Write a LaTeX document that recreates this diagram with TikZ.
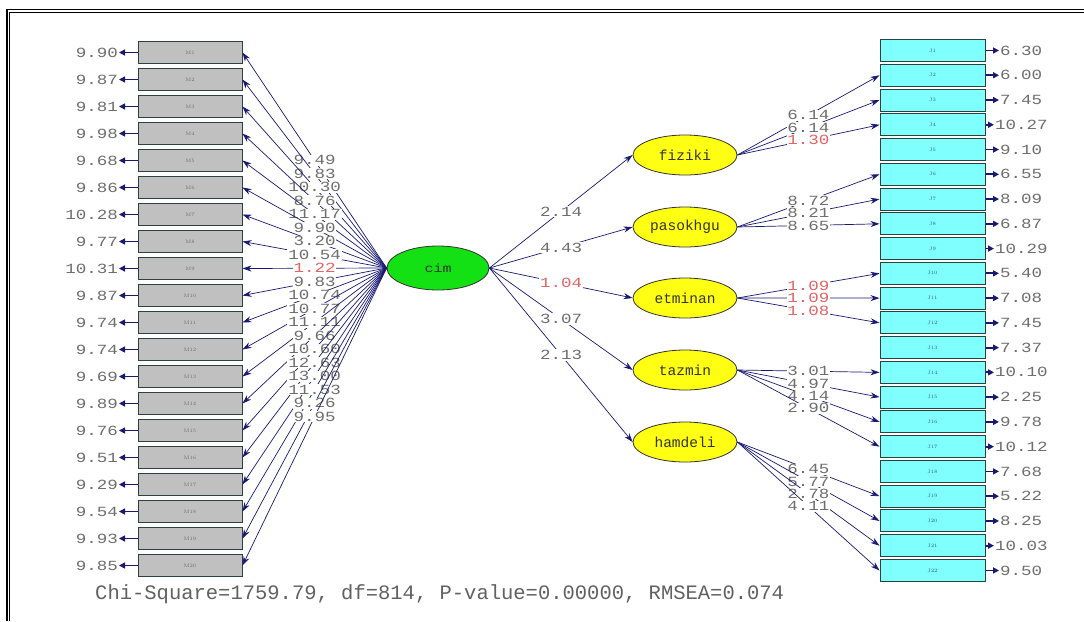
\documentclass[tikz,border=0pt]{standalone}
\usepackage{fontspec}
\usetikzlibrary{shapes.geometric,arrows.meta}
\newfontfamily\lmono[FakeStretch=1.25]{Liberation Mono}
\newfontfamily\bmono{Liberation Mono}
\definecolor{navy}{RGB}{25,25,115}
\definecolor{lblgray}{RGB}{110,110,110}
\definecolor{lblred}{RGB}{225,100,100}
\definecolor{boxgray}{RGB}{192,192,192}
\definecolor{boxcyan}{RGB}{128,255,255}
\definecolor{edgedark}{RGB}{45,65,65}
\definecolor{latyellow}{RGB}{255,255,20}
\definecolor{latgreen}{RGB}{20,225,20}
\definecolor{jtext}{RGB}{40,90,160}
\tikzset{
  mbox/.style={rectangle, minimum width=104pt, minimum height=22pt, inner sep=0pt,
    fill=boxgray, draw=edgedark, line width=1pt, text=lblgray, font=\fontsize{5}{5}\selectfont},
  jbox/.style={rectangle, minimum width=105pt, minimum height=22pt, inner sep=0pt,
    fill=boxcyan, draw=edgedark, line width=1pt, text=jtext, font=\fontsize{5}{5}\selectfont},
  lat/.style={ellipse, minimum width=104pt, minimum height=40pt, inner sep=0pt,
    fill=latyellow, draw=black!80, line width=0.8pt, font=\bmono\fontsize{14.5}{14.5}\selectfont, text=black!80},
  errlbl/.style={inner sep=1pt, text=lblgray, font=\lmono\fontsize{14}{14}\selectfont},
  lbl/.style={inner sep=0.8pt, fill=white, font=\lmono\fontsize{14}{14}\selectfont},
  ldg/.style={draw=navy, line width=0.7pt, -{Stealth[length=9pt,width=6pt]}},
  erra/.style={draw=navy, line width=1.8pt, -{Triangle[length=6pt,width=6pt]}},
}
\begin{document}
\begin{tikzpicture}[x=1pt,y=-1pt]
\useasboundingbox (0,0) rectangle (1084,621);
\fill[white] (0,0) rectangle (1084,621);
% frame
\draw[line width=1.5pt] (7,621) -- (7,9.7) -- (1084,9.7);
\draw[line width=0.8pt] (9.7,621) -- (9.7,12.3) -- (1084,12.3);

% latent variables
\node[lat, fill=latgreen, minimum width=102pt, minimum height=44pt, font=\lmono\fontsize{12}{12}\selectfont] (cim) at (438,268) {cim};
\node[lat] (fiziki) at (685,155) {fiziki};
\node[lat] (pasokhgu) at (685,227) {pasokhgu};
\node[lat] (etminan) at (685,298) {etminan};
\node[lat] (tazmin) at (685,370) {tazmin};
\node[lat] (hamdeli) at (685,442) {hamdeli};

% left indicators
\foreach \i in {1,...,20} {
  \node[mbox] (M\i) at (190,{52.5+27*(\i-1)}) {M\i};
}
% right indicators
\foreach \j in {1,...,22} {
  \node[jbox] (J\j) at (932.5,{50.5+24.76*(\j-1)}) {J\j};
}

% left error terms
\foreach \i/\v in {1/9.90,2/9.87,3/9.81,4/9.98,5/9.68,6/9.86,7/10.28,8/9.77,9/10.31,10/9.87,
                   11/9.74,12/9.74,13/9.69,14/9.89,15/9.76,16/9.51,17/9.29,18/9.54,19/9.93,20/9.85} {
  \node[errlbl, anchor=east] (eM\i) at (119,{52.5+27*(\i-1)}) {\v};
  \draw[erra] (M\i.west) -- (eM\i.east);
}
% right error terms
\foreach \j/\v/\xx in {1/6.30/999,2/6.00/999,3/7.45/999,4/10.27/994,5/9.10/999,6/6.55/999,7/8.09/999,
                       8/6.87/999,9/10.29/994,10/5.40/999,11/7.08/999,12/7.45/999,13/7.37/999,14/10.10/994,
                       15/2.25/999,16/9.78/999,17/10.12/994,18/7.68/999,19/5.22/999,20/8.25/999,21/10.03/994,22/9.50/999} {
  \node[errlbl, anchor=west] (eJ\j) at (\xx,{50.5+24.76*(\j-1)}) {\v};
  \draw[erra] (J\j.east) -- (eJ\j.west);
}

% cim -> M loadings
\foreach \i/\v/\c in {1/9.49/lblgray,2/9.83/lblgray,3/10.30/lblgray,4/8.76/lblgray,5/11.17/lblgray,
                      6/9.90/lblgray,7/3.20/lblgray,8/10.54/lblgray,9/1.22/lblred,10/9.83/lblgray,
                      11/10.74/lblgray,12/10.77/lblgray,13/11.11/lblgray,14/9.66/lblgray,15/10.60/lblgray,
                      16/12.63/lblgray,17/13.00/lblgray,18/11.53/lblgray,19/9.26/lblgray,20/9.95/lblgray} {
  \draw[ldg] (cim.west) -- node[lbl, text=\c] {\v} (M\i.east);
}

% cim -> latent paths
\foreach \n/\v/\c in {fiziki/2.14/lblgray, pasokhgu/4.43/lblgray, etminan/1.04/lblred,
                      tazmin/3.07/lblgray, hamdeli/2.13/lblgray} {
  \draw[ldg] (cim.east) -- node[lbl, text=\c] {\v} (\n.west);
}

% latent -> J loadings
\foreach \n/\j/\v/\c in {fiziki/2/6.14/lblgray, fiziki/3/6.14/lblgray, fiziki/4/1.30/lblred,
                         pasokhgu/6/8.72/lblgray, pasokhgu/7/8.21/lblgray, pasokhgu/8/8.65/lblgray,
                         etminan/10/1.09/lblred, etminan/11/1.09/lblred, etminan/12/1.08/lblred,
                         tazmin/14/3.01/lblgray, tazmin/15/4.97/lblgray, tazmin/16/4.14/lblgray, tazmin/17/2.90/lblgray,
                         hamdeli/19/6.45/lblgray, hamdeli/20/5.77/lblgray, hamdeli/21/2.78/lblgray, hamdeli/22/4.11/lblgray} {
  \draw[ldg] (\n.east) -- node[lbl, text=\c] {\v} (J\j.west);
}

% fit statistics
\node[anchor=west, inner sep=0pt, text=black!62, font=\bmono\fontsize{20.5}{20.5}\selectfont] (fit) at (95,594)
  {Chi-Square=1759.79, df=814, P-value=0.00000, RMSEA=0.074};
\end{tikzpicture}
\end{document}
